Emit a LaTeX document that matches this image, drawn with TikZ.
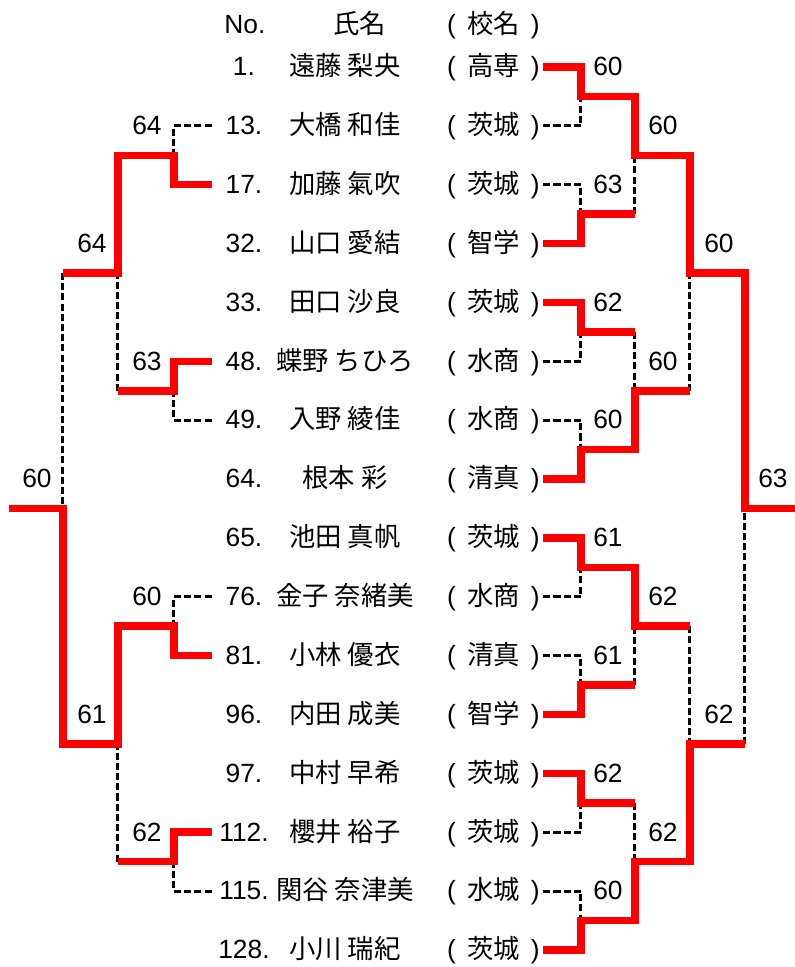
\documentclass[tikz,border=0pt]{standalone}
\usepackage{fontspec}
\setmainfont{Liberation Sans}
\newfontfamily\jp{Noto Sans CJK JP}
\usepackage{tikz}
\newcommand{\sch}[1]{(\hspace{0.42em}{\jp #1}\hspace{0.42em})}

\begin{document}
\begin{tikzpicture}[
x=1cm, y=-1.1774cm,
font=\fontsize{15}{18}\selectfont,
nocell/.style={minimum width=1.28cm, inner sep=0pt, text height=12.5pt, text depth=2.5pt},
namecell/.style={font=\fontsize{15}{18}\jp, inner sep=0pt, text height=12.5pt, text depth=2.5pt},
schcell/.style={minimum width=1.98cm, inner sep=0pt, text height=12.5pt, text depth=2.5pt},
score/.style={inner sep=0pt, text height=12.5pt, text depth=2.5pt},
win/.style={draw=red, line width=4.3pt},
lose/.style={draw=black, line width=1.7pt, dash pattern=on 4pt off 1.8pt}
]
\useasboundingbox (0,-0.138) rectangle (15.9,16.29);

\node[nocell](hno) at (4.9,0.287) {No.};
\node[namecell](hname) at (7.2,0.287) {氏名};
\node[schcell](hsch) at (9.87,0.287) {\sch{校名}};

\node[nocell](n1) at (4.88,1) {1.};
\node[namecell](m1) at (6.9,1) {遠藤 梨央};
\node[schcell](s1) at (9.87,1) {\sch{高専}};
\node[nocell](n2) at (4.88,2) {13.};
\node[namecell](m2) at (6.9,2) {大橋 和佳};
\node[schcell](s2) at (9.87,2) {\sch{茨城}};
\node[nocell](n3) at (4.88,3) {17.};
\node[namecell](m3) at (6.9,3) {加藤 氣吹};
\node[schcell](s3) at (9.87,3) {\sch{茨城}};
\node[nocell](n4) at (4.88,4) {32.};
\node[namecell](m4) at (6.9,4) {山口 愛結};
\node[schcell](s4) at (9.87,4) {\sch{智学}};
\node[nocell](n5) at (4.88,5) {33.};
\node[namecell](m5) at (6.9,5) {田口 沙良};
\node[schcell](s5) at (9.87,5) {\sch{茨城}};
\node[nocell](n6) at (4.88,6) {48.};
\node[namecell](m6) at (6.9,6) {蝶野 ちひろ};
\node[schcell](s6) at (9.87,6) {\sch{水商}};
\node[nocell](n7) at (4.88,7) {49.};
\node[namecell](m7) at (6.9,7) {入野 綾佳};
\node[schcell](s7) at (9.87,7) {\sch{水商}};
\node[nocell](n8) at (4.88,8) {64.};
\node[namecell](m8) at (6.9,8) {根本 彩};
\node[schcell](s8) at (9.87,8) {\sch{清真}};
\node[nocell](n9) at (4.88,9) {65.};
\node[namecell](m9) at (6.9,9) {池田 真帆};
\node[schcell](s9) at (9.87,9) {\sch{茨城}};
\node[nocell](n10) at (4.88,10) {76.};
\node[namecell](m10) at (6.9,10) {金子 奈緒美};
\node[schcell](s10) at (9.87,10) {\sch{水商}};
\node[nocell](n11) at (4.88,11) {81.};
\node[namecell](m11) at (6.9,11) {小林 優衣};
\node[schcell](s11) at (9.87,11) {\sch{清真}};
\node[nocell](n12) at (4.88,12) {96.};
\node[namecell](m12) at (6.9,12) {内田 成美};
\node[schcell](s12) at (9.87,12) {\sch{智学}};
\node[nocell](n13) at (4.88,13) {97.};
\node[namecell](m13) at (6.9,13) {中村 早希};
\node[schcell](s13) at (9.87,13) {\sch{茨城}};
\node[nocell](n14) at (4.88,14) {112.};
\node[namecell](m14) at (6.9,14) {櫻井 裕子};
\node[schcell](s14) at (9.87,14) {\sch{茨城}};
\node[nocell](n15) at (4.88,15) {115.};
\node[namecell](m15) at (6.9,15) {関谷 奈津美};
\node[schcell](s15) at (9.87,15) {\sch{水城}};
\node[nocell](n16) at (4.88,16) {128.};
\node[namecell](m16) at (6.9,16) {小川 瑞紀};
\node[schcell](s16) at (9.87,16) {\sch{茨城}};

% right side junctions
\coordinate (ra1) at (11.62,1.5);
\coordinate (ra2) at (11.62,3.5);
\coordinate (ra3) at (11.62,5.5);
\coordinate (ra4) at (11.62,7.5);
\coordinate (ra5) at (11.62,9.5);
\coordinate (ra6) at (11.62,11.5);
\coordinate (ra7) at (11.62,13.5);
\coordinate (ra8) at (11.62,15.5);
\coordinate (rb1) at (12.70,2.5);
\coordinate (rb2) at (12.70,6.5);
\coordinate (rb3) at (12.70,10.5);
\coordinate (rb4) at (12.70,14.5);
\coordinate (rc1) at (13.80,4.5);
\coordinate (rc2) at (13.80,12.5);
\coordinate (rd1) at (14.90,8.5);
\coordinate (re) at (15.9,8.5);

% left side junctions
\coordinate (la1) at (3.48,2.5);
\coordinate (la2) at (3.48,6.5);
\coordinate (la3) at (3.48,10.5);
\coordinate (la4) at (3.48,14.5);
\coordinate (lb1) at (2.36,4.5);
\coordinate (lb2) at (2.36,12.5);
\coordinate (lc1) at (1.26,8.5);
\coordinate (le) at (0.18,8.5);

% scores
\node[score](ta1) at (12.16,1) {60};
\node[score](ta2) at (12.16,3) {63};
\node[score](ta3) at (12.16,5) {62};
\node[score](ta4) at (12.16,7) {60};
\node[score](ta5) at (12.16,9) {61};
\node[score](ta6) at (12.16,11) {61};
\node[score](ta7) at (12.16,13) {62};
\node[score](ta8) at (12.16,15) {60};
\node[score](tb1) at (13.26,2) {60};
\node[score](tb2) at (13.26,6) {60};
\node[score](tb3) at (13.26,10) {62};
\node[score](tb4) at (13.26,14) {62};
\node[score](tc1) at (14.38,4) {60};
\node[score](tc2) at (14.38,12) {62};
\node[score](td1) at (15.46,8) {63};
\node[score](ua1) at (2.94,2) {64};
\node[score](ua2) at (2.94,6) {63};
\node[score](ua3) at (2.94,10) {60};
\node[score](ua4) at (2.94,14) {62};
\node[score](ub1) at (1.84,4) {64};
\node[score](ub2) at (1.84,12) {61};
\node[score](uc1) at (0.74,8) {60};

% losers
\draw[lose](s2.east) -| (ra1);
\draw[lose](s3.east) -| (ra2);
\draw[lose](s6.east) -| (ra3);
\draw[lose](s7.east) -| (ra4);
\draw[lose](s10.east) -| (ra5);
\draw[lose](s11.east) -| (ra6);
\draw[lose](s14.east) -| (ra7);
\draw[lose](s15.east) -| (ra8);
\draw[lose](rb1 |- ra2) -- (rb1);
\draw[lose](rb2 |- ra3) -- (rb2);
\draw[lose](rb3 |- ra6) -- (rb3);
\draw[lose](rb4 |- ra7) -- (rb4);
\draw[lose](rc1 |- rb2) -- (rc1);
\draw[lose](rc2 |- rb3) -- (rc2);
\draw[lose](rd1 |- rc2) -- (rd1);

\draw[lose](n2.west) -| (la1);
\draw[lose](n7.west) -| (la2);
\draw[lose](n10.west) -| (la3);
\draw[lose](n15.west) -| (la4);
\draw[lose](lb1 |- la2) -- (lb1);
\draw[lose](lb2 |- la4) -- (lb2);
\draw[lose](lc1 |- lb1) -- (lc1);

% winners
\draw[win](s1.east) -| (ra1) -| (rb1) -| (rc1) -| (rd1) -- (re);
\draw[win](s4.east) -| (ra2) -- (rb1 |- ra2);
\draw[win](s5.east) -| (ra3) -- (rb2 |- ra3);
\draw[win](s8.east) -| (ra4) -| (rb2) -- (rc1 |- rb2);
\draw[win](s9.east) -| (ra5) -| (rb3) -- (rc2 |- rb3);
\draw[win](s12.east) -| (ra6) -- (rb3 |- ra6);
\draw[win](s13.east) -| (ra7) -- (rb4 |- ra7);
\draw[win](s16.east) -| (ra8) -| (rb4) -| (rc2) -- (rd1 |- rc2);

\draw[win](n3.west) -| (la1) -| (lb1) -- (lc1 |- lb1);
\draw[win](n6.west) -| (la2) -- (lb1 |- la2);
\draw[win](n11.west) -| (la3) -| (lb2) -| (lc1) -- (le);
\draw[win](n14.west) -| (la4) -- (lb2 |- la4);

\end{tikzpicture}
\end{document}
